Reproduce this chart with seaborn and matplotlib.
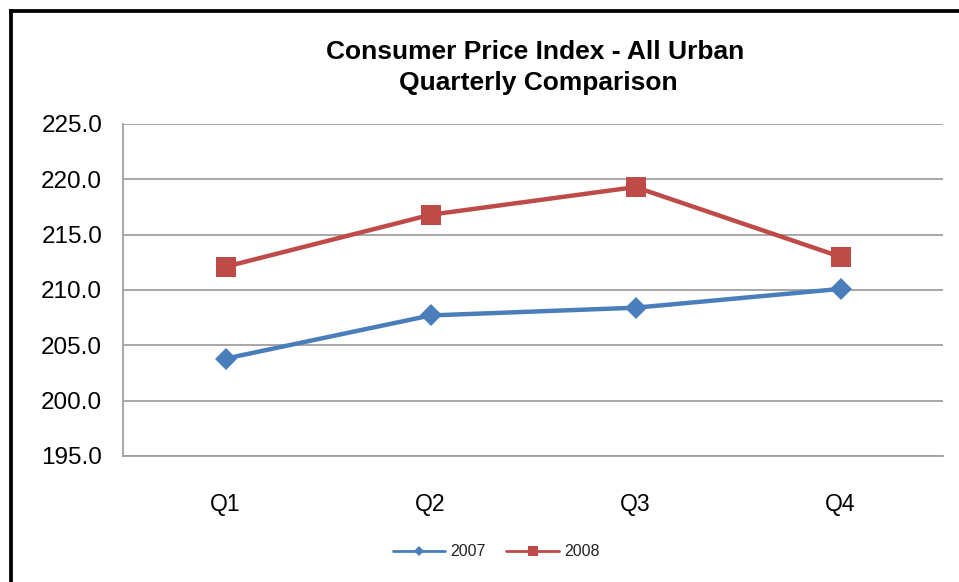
import matplotlib
matplotlib.use("Agg")
import matplotlib.pyplot as plt
from matplotlib.lines import Line2D
import seaborn as sns
import pandas as pd

quarters = ["Q1", "Q2", "Q3", "Q4"]
cpi_2007 = [203.8, 207.7, 208.4, 210.1]
cpi_2008 = [212.1, 216.8, 219.3, 213.0]
series_names = ["2007", "2008"]
title_lines = ["Consumer Price Index - All Urban", "Quarterly Comparison"]
y_ticks = [195.0, 200.0, 205.0, 210.0, 215.0, 220.0, 225.0]

df = pd.DataFrame({
    "Quarter": quarters * 2,
    "CPI": cpi_2007 + cpi_2008,
    "Year": [series_names[0]] * 4 + [series_names[1]] * 4,
})

sns.set_style("white")
plt.rcParams["font.family"] = ["Liberation Sans", "DejaVu Sans"]
plt.rcParams["text.color"] = "black"

colors = {"2007": "#4A7EBB", "2008": "#BE4B48"}
W, H = 959, 582
fig = plt.figure(figsize=(W / 100, H / 100), dpi=100)
ax = fig.add_axes([123 / W, 1 - 456 / H, (943 - 123) / W, (456 - 124) / H])

for name, mk, ms in [("2007", "D", 11), ("2008", "s", 14.5)]:
    sub = df[df["Year"] == name]
    sns.lineplot(data=sub, x="Quarter", y="CPI", ax=ax, color=colors[name],
                 marker=mk, markersize=ms, linewidth=3.2, markeredgewidth=0,
                 legend=False, sort=False)

ax.set_xlim(-0.5, 3.5)
ax.set_ylim(195, 225)
ax.set_yticks(y_ticks)
ax.set_yticklabels([f"{v:.1f}" for v in y_ticks])
ax.set_xlabel("")
ax.set_ylabel("")
ax.grid(axis="y", color="#A0A0A0", linewidth=1.3)
ax.grid(axis="x", visible=False)
ax.set_axisbelow(True)
for s in ["top", "right"]:
    ax.spines[s].set_visible(False)
for s in ["left", "bottom"]:
    ax.spines[s].set_color("#A0A0A0")
    ax.spines[s].set_linewidth(1.3)
ax.tick_params(axis="both", length=0, colors="black")
ax.tick_params(axis="y", pad=15, labelsize=17.5)
ax.tick_params(axis="x", pad=27, labelsize=16.5)

fig.text(535 / W, 1 - 52 / H, title_lines[0], ha="center", va="center",
         fontsize=19, fontweight="bold", color="black")
fig.text(538 / W, 1 - 83 / H, title_lines[1], ha="center", va="center",
         fontsize=19, fontweight="bold", color="black")

handles = [
    Line2D([], [], color=colors["2007"], marker="D", markersize=5, linewidth=2, markeredgewidth=0),
    Line2D([], [], color=colors["2008"], marker="s", markersize=7, linewidth=2, markeredgewidth=0),
]
fig.legend(handles, series_names, loc="center", bbox_to_anchor=(496 / W, 1 - 552 / H),
           ncol=2, frameon=False, fontsize=11.5, handlelength=3.3, columnspacing=1.3,
           handletextpad=0.3, labelcolor="#222222")

# outer border (left and top)
fig.add_artist(Line2D([10.5 / W, 10.5 / W], [0, 1 - 9 / H], color="black", linewidth=2.7,
                      transform=fig.transFigure, solid_capstyle="butt"))
fig.add_artist(Line2D([9 / W, 1], [1 - 10.5 / H, 1 - 10.5 / H], color="black", linewidth=2.7,
                      transform=fig.transFigure, solid_capstyle="butt"))

fig.savefig("out.png", dpi=100)
